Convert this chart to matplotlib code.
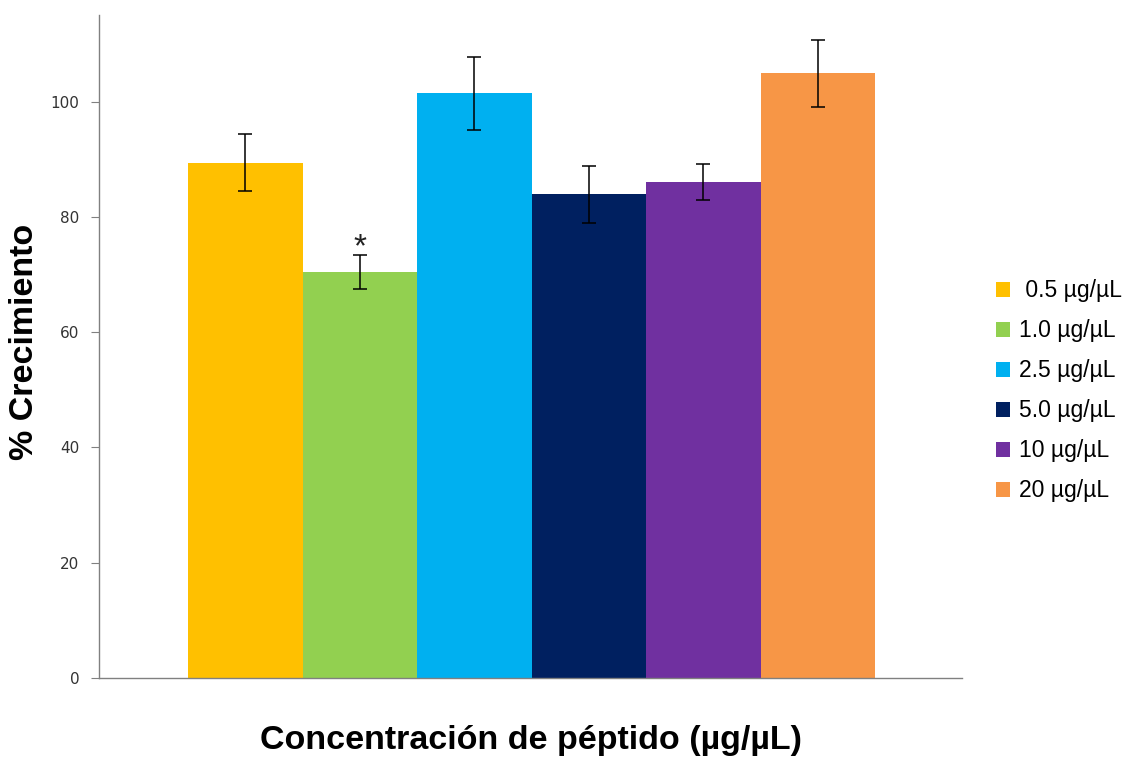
import matplotlib.pyplot as plt
import numpy as np

labels = [' 0.5 µg/µL', '1.0 µg/µL', '2.5 µg/µL', '5.0 µg/µL', '10 µg/µL', '20 µg/µL']
values = [89.4, 70.4, 101.4, 83.9, 86.0, 104.9]
errors = [4.9, 3.0, 6.3, 4.9, 3.1, 5.8]
colors = ['#FFC000', '#92D050', '#00B0F0', '#002060', '#7030A0', '#F79646']
star_idx = 1

plt.rcParams['font.family'] = ['Liberation Sans', 'DejaVu Sans']

fig = plt.figure(figsize=(11.26, 7.59), dpi=100)
ax = fig.add_axes([0.0879, 0.1067, 0.7665, 0.8735])

x = np.arange(len(values))
for i in range(len(values)):
    ax.bar(x[i], values[i], width=1.0, color=colors[i], label=labels[i])
ax.errorbar(x, values, yerr=errors, fmt='none', ecolor='black',
            elinewidth=1.1, capsize=4.8, capthick=1.1)

# significance mark
ax.text(x[star_idx], values[star_idx] + errors[star_idx] - 0.3, '*',
        ha='center', va='baseline', fontsize=24, color='#222222')

ax.set_xlim(-1.28, 6.26)
ax.set_ylim(0, 115)
ax.set_yticks([0, 20, 40, 60, 80, 100])
ax.set_xticks([])
ax.tick_params(axis='y', length=6, color='#808080', labelsize=11,
               labelcolor='#333333', pad=8)
for lab in ax.get_yticklabels():
    lab.set_family('DejaVu Sans')

for s in ['top', 'right']:
    ax.spines[s].set_visible(False)
for s in ['left', 'bottom']:
    ax.spines[s].set_color('#808080')
    ax.spines[s].set_linewidth(1.0)

fig.text(25 / 1126, 1 - 342 / 759, '% Crecimiento', rotation=90,
         ha='center', va='center', fontsize=24.5, fontweight='bold')
fig.text(531 / 1126, 10 / 759, 'Concentración de péptido (µg/µL)',
         ha='center', va='baseline', fontsize=24.5, fontweight='bold')

fig.legend(loc='center left', bbox_to_anchor=(0.8845, 0.485), frameon=False,
           fontsize=16.5, handlelength=0.62, handleheight=0.62,
           handletextpad=0.4, labelspacing=0.74, borderpad=0,
           borderaxespad=0)

fig.savefig('out.png', dpi=100)
